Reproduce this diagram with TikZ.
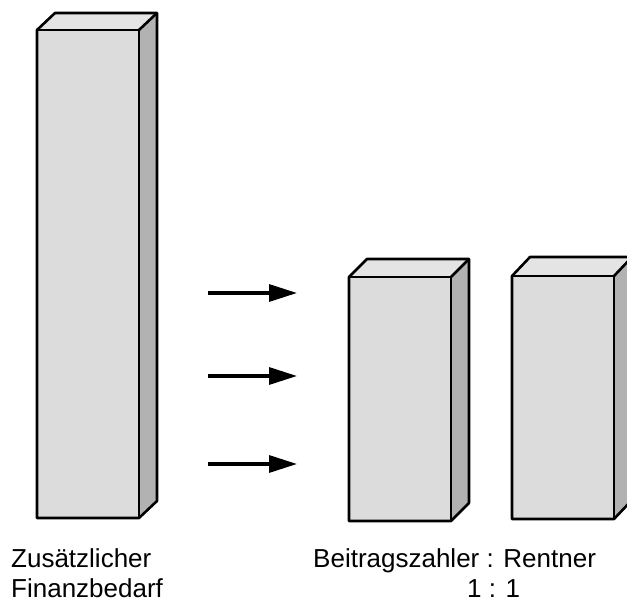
\documentclass[tikz,border=0pt]{standalone}
\usepackage{fontspec}
\setmainfont{Liberation Sans}
\usetikzlibrary{arrows.meta}
\definecolor{frontc}{RGB}{220,220,220}
\definecolor{topc}{RGB}{228,228,228}
\definecolor{sidec}{RGB}{178,178,178}
\newcommand\mycuboid[6]{% x1,y1 (top-left front), x2,y2 (bottom-right front), dx, dy
  \fill[topc] (#1,#2) -- ++(#5,-#6) -- (#3+#5,#2-#6) -- (#3,#2) -- cycle;
  \fill[sidec] (#3,#2) -- (#3+#5,#2-#6) -- (#3+#5,#4-#6) -- (#3,#4) -- cycle;
  \fill[frontc] (#1,#2) rectangle (#3,#4);
  \draw[edge] (#1,#2) -- (#1+#5,#2-#6) -- (#3+#5,#2-#6) -- (#3+#5,#4-#6) -- (#3,#4) -- (#1,#4) -- cycle;
  \draw[edge] (#1,#2) -- (#3,#2) -- (#3,#4);
  \draw[edge] (#3,#2) -- (#3+#5,#2-#6);
}
\begin{document}
\begin{tikzpicture}[x=1pt,y=-1pt,
  edge/.style={draw=black,line width=2.6pt,line join=round},
  arr/.style={line width=3.2pt,-{Triangle[length=28pt,width=17pt]}},
  lbl/.style={inner sep=0pt,font=\fontsize{26}{30}\selectfont}]
\useasboundingbox (0,0) rectangle (627,601);
\begin{scope}
\clip (0,0) rectangle (627,601);
\mycuboid{37}{30}{139}{518}{18}{17}
\mycuboid{349}{277}{451}{521}{18}{18}
\mycuboid{512}{276}{614}{519}{18}{19}
\end{scope}
\coordinate (a1s) at (208,293); \coordinate (a1e) at (297,293);
\coordinate (a2s) at (208,376); \coordinate (a2e) at (297,376);
\coordinate (a3s) at (208,464); \coordinate (a3e) at (297,464);
\draw[arr] (a1s) -- (a1e);
\draw[arr] (a2s) -- (a2e);
\draw[arr] (a3s) -- (a3e);
\node[lbl,anchor=base west] (z1) at (11,567) {Zusätzlicher};
\node[lbl,anchor=base west] (z2) at (11,597) {Finanzbedarf};
\node[lbl,anchor=base west] (b1) at (313,567) {Beitragszahler : Rentner};
\node[lbl,anchor=base west] (b2) at (467,597) {1 : 1};
\end{tikzpicture}
\end{document}
